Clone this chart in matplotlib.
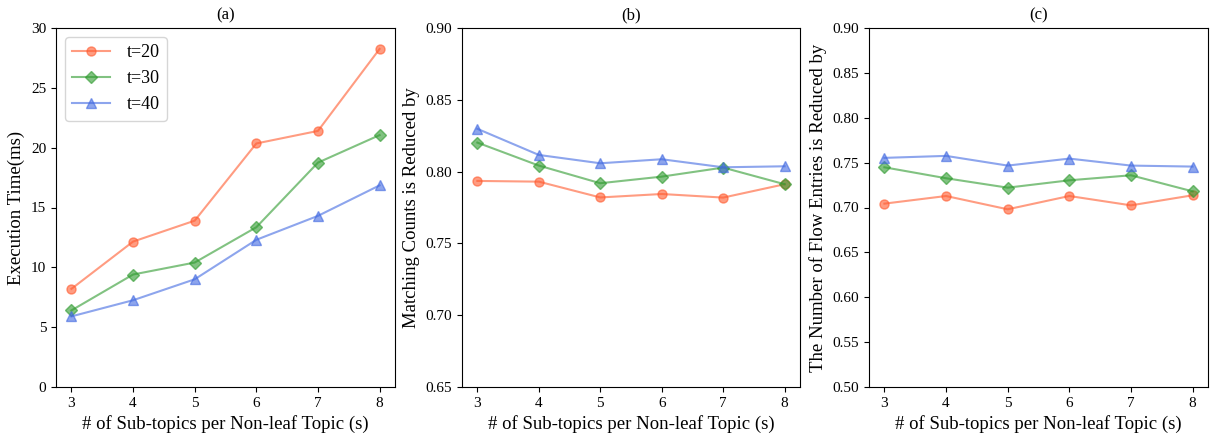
import numpy as np
import matplotlib.pyplot as plt

plt.rcParams['font.family'] = ['Liberation Serif', 'DejaVu Serif']

s = [3, 4, 5, 6, 7, 8]
labels = ['t=20', 't=30', 't=40']

# (a) execution time (ms)
time_t20 = [8.2, 12.15, 13.9, 20.35, 21.4, 28.25]
time_t30 = [6.4, 9.4, 10.4, 13.35, 18.75, 21.05]
time_t40 = [5.9, 7.25, 9.0, 12.3, 14.3, 16.85]

# (b) matching counts reduction
match_t20 = [0.7935, 0.793, 0.782, 0.7844, 0.7819, 0.7912]
match_t30 = [0.8202, 0.8042, 0.7919, 0.7965, 0.8028, 0.7912]
match_t40 = [0.8298, 0.8116, 0.8058, 0.8086, 0.803, 0.8037]

# (c) flow entries reduction
flow_t20 = [0.7043, 0.7128, 0.698, 0.7128, 0.7024, 0.7136]
flow_t30 = [0.7448, 0.7326, 0.7221, 0.7303, 0.7359, 0.718]
flow_t40 = [0.7553, 0.7575, 0.7467, 0.7545, 0.7467, 0.7456]

colors = ['#ff5a2e', '#2e9a2e', '#4169e1']
markers = ['o', 'D', '^']

fig = plt.figure(figsize=(12.12, 4.34), dpi=100)
ax1 = fig.add_axes([56 / 1212, 1 - 387 / 434, 339 / 1212, 359 / 434])
ax2 = fig.add_axes([462 / 1212, 1 - 387 / 434, 338 / 1212, 359 / 434])
ax3 = fig.add_axes([869 / 1212, 1 - 387 / 434, 339 / 1212, 359 / 434])


def draw(ax, series, title, ylabel, ylim, yticks):
    for ys, c, m, lab in zip(series, colors, markers, labels):
        ax.plot(s, ys, color=c, marker=m, markersize=6.5, linewidth=1.5,
                alpha=0.6, label=lab)
    ax.set_title(title, fontsize=12)
    ax.set_ylabel(ylabel, fontsize=13.5)
    ax.set_xlabel('# of Sub-topics per Non-leaf Topic (s)', fontsize=13.5)
    ax.set_ylim(ylim)
    ax.set_yticks(yticks)
    ax.set_xticks(s)
    ax.tick_params(labelsize=11)


draw(ax1, [time_t20, time_t30, time_t40], '(a)', 'Execution Time(ms)',
     (0, 30), np.arange(0, 31, 5))
ax1.legend(loc='upper left', fontsize=13, handlelength=2.1, handletextpad=0.9)
draw(ax2, [match_t20, match_t30, match_t40], '(b)', 'Matching Counts is Reduced by',
     (0.65, 0.90), [0.65, 0.70, 0.75, 0.80, 0.85, 0.90])
ax2.set_yticklabels(['0.65', '0.70', '0.75', '0.80', '0.85', '0.90'])
draw(ax3, [flow_t20, flow_t30, flow_t40], '(c)', 'The Number of Flow Entries is Reduced by',
     (0.50, 0.90), [0.50, 0.55, 0.60, 0.65, 0.70, 0.75, 0.80, 0.85, 0.90])
ax3.set_yticklabels(['0.50', '0.55', '0.60', '0.65', '0.70', '0.75', '0.80', '0.85', '0.90'])

fig.savefig('out.png', dpi=100)
